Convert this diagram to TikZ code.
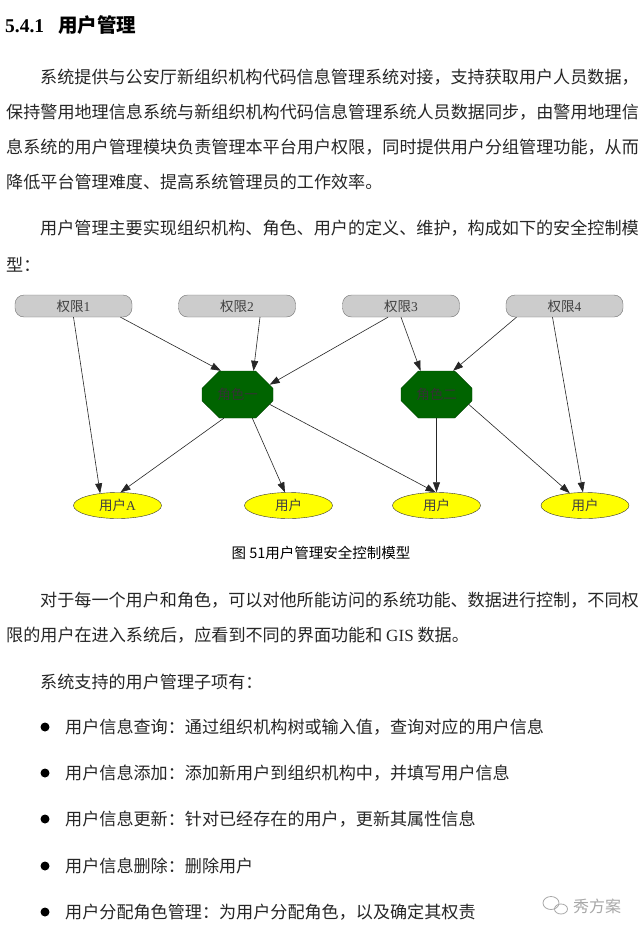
\documentclass[tikz,border=0pt]{standalone}
\usepackage{fontspec}
\setmainfont{Liberation Serif}
\newfontfamily\cjk{Noto Sans CJK SC}
\usetikzlibrary{arrows.meta,shapes.misc,shapes.geometric}

\definecolor{permgray}{HTML}{CCCCCC}
\definecolor{rolegreen}{HTML}{006400}
\definecolor{useryellow}{HTML}{FFFF00}
\definecolor{marktext}{HTML}{A8A8A8}

\tikzset{
  body/.style={anchor=west, inner sep=0pt, font=\cjk\fontsize{17.1}{20}\selectfont, text=black!85},
  perm/.style={rectangle, rounded corners=9pt, draw=black!55, fill=permgray,
    minimum width=117pt, minimum height=22pt, inner sep=0pt,
    font=\cjk\fontsize{13.5}{15}\selectfont, text=black!75},
  role/.style={chamfered rectangle, chamfered rectangle xsep=15pt, chamfered rectangle ysep=11pt,
    draw=rolegreen!70!black, fill=rolegreen, minimum width=71pt, minimum height=47pt, inner sep=0pt,
    font=\cjk\fontsize{13.5}{15}\selectfont, text=black!80},
  user/.style={ellipse, draw=black!80, fill=useryellow, minimum width=88pt, minimum height=26pt,
    inner sep=0pt, font=\cjk\fontsize{13.5}{15}\selectfont, text=black!75},
  link/.style={-{Triangle[length=10pt,width=7pt]}, draw=black!85, line width=0.6pt},
  dot/.style={circle, fill=black, inner sep=0pt, minimum size=9pt}
}

\begin{document}
\begin{tikzpicture}[x=1pt,y=-1pt]
  \useasboundingbox (0,0) rectangle (640,934);
  \fill[white] (0,0) rectangle (640,934);

  % heading and first paragraphs
  \node[anchor=west, inner sep=0pt, font=\bfseries\fontsize{19.5}{22}\selectfont] (head) at (5,25)
    {5.4.1\hspace{14pt}{\cjk\bfseries 用户管理}};
  \node[body] (p1a) at (40,77) {系统提供与公安厅新组织机构代码信息管理系统对接，支持获取用户人员数据，};
  \node[body] (p1b) at (6,112) {保持警用地理信息系统与新组织机构代码信息管理系统人员数据同步，由警用地理信};
  \node[body] (p1c) at (6,147) {息系统的用户管理模块负责管理本平台用户权限，同时提供用户分组管理功能，从而};
  \node[body] (p1d) at (6,182) {降低平台管理难度、提高系统管理员的工作效率。};
  \node[body] (p2a) at (40,228) {用户管理主要实现组织机构、角色、用户的定义、维护，构成如下的安全控制模};
  \node[body] (p2b) at (6,265) {型：};

  % model
  \node[perm] (q1) at (73.5,306) {权限{\rmfamily 1}};
  \node[perm] (q2) at (237,306) {权限{\rmfamily 2}};
  \node[perm] (q3) at (401,306) {权限{\rmfamily 3}};
  \node[perm] (q4) at (564.5,306) {权限{\rmfamily 4}};
  \node[role] (r1) at (237.5,394.5) {角色一};
  \node[role] (r2) at (436.5,394.5) {角色二};
  \node[user] (ua) at (117.5,505.5) {用户{\rmfamily A}};
  \node[user] (u2) at (288.5,505.5) {用户};
  \node[user] (u3) at (436.5,505.5) {用户};
  \node[user] (u4) at (585,505.5) {用户};

  \draw[link] (q1.south) -- (ua.145);
  \draw[link] ([xshift=47pt]q1.south) -- (r1.125);
  \draw[link] ([xshift=23pt]q2.south) -- (r1.56);
  \draw[link] ([xshift=-13pt]q3.south) -- (r1.17);
  \draw[link] (q3.south) -- (r2.124);
  \draw[link] ([xshift=-48pt]q4.south) -- (r2.55);
  \draw[link] ([xshift=-12pt]q4.south) -- (u4.99);
  \draw[link] (r1.-120) -- (ua.77);
  \draw[link] (r1.-58) -- (u2.105);
  \draw[link] (r1.-17) -- (u3.94);
  \draw[link] (r2.south) -- (u3.north);
  \draw[link] (r2.-17) -- (u4.141);

  \node[inner sep=0pt, font=\cjk\fontsize{14.5}{16}\selectfont] (cap) at (321,553) {图 51用户管理安全控制模型};

  % rest of the page
  \node[body] (p3a) at (40,600) {对于每一个用户和角色，可以对他所能访问的系统功能、数据进行控制，不同权};
  \node[body] (p3b) at (6,635) {限的用户在进入系统后，应看到不同的界面功能和 {\rmfamily GIS} 数据。};
  \node[body] (p4) at (40,682) {系统支持的用户管理子项有：};
  \foreach \y/\t [count=\i] in {727/{用户信息查询：通过组织机构树或输入值，查询对应的用户信息},
      773/{用户信息添加：添加新用户到组织机构中，并填写用户信息},
      819/{用户信息更新：针对已经存在的用户，更新其属性信息},
      866/{用户信息删除：删除用户},
      912/{用户分配角色管理：为用户分配角色，以及确定其权责}} {
    \node[dot] (b\i) at (45,\y) {};
    \node[body] (item\i) at (65,\y) {\t};
  }

  % watermark
  \draw[marktext, line width=0.8pt] (551,903) ellipse (8 and 6.5);
  \draw[marktext, line width=0.8pt] (561,909) ellipse (6.5 and 5);
  \node[anchor=west, inner sep=0pt, font=\cjk\fontsize{16}{18}\selectfont, text=marktext] (mark) at (573,906) {秀方案};
\end{tikzpicture}
\end{document}
